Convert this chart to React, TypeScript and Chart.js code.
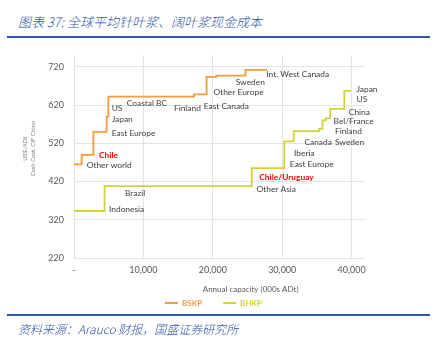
import React, { useEffect, useRef } from 'react';
import { Chart, registerables } from 'chart.js';

Chart.register(...registerables);

// ---- Data (capacity in 000s ADt cumulative, cost in US$/ADt) ----
const bskpCapacity = [0, 1100, 2800, 4700, 4950, 17300, 19100, 20500, 24700, 27800];
const bskpCost = [465, 490, 550, 590, 642, 648, 694, 697, 712, 712];

const bhkpCapacity = [0, 4400, 25600, 30300, 31650, 35300, 35800, 36300, 36900, 38950, 39900];
const bhkpCost = [343, 408, 455, 525, 552, 558, 580, 585, 610, 657, 657];

const xTickValues = [0, 10000, 20000, 30000, 40000];
const yTickValues = [220, 320, 420, 520, 620, 720];

// region annotations (anchored in data units)
const regionNames = [
  'Other world', 'Chile', 'East Europe', 'Japan', 'US', 'Coastal BC', 'Finland', 'East Canada',
  'Other Europe', 'Sweden', 'Int. West Canada',
  'Indonesia', 'Brazil', 'Other Asia', 'Chile/Uruguay', 'East Europe', 'Iberia', 'Canada',
  'Sweden', 'Finland', 'Bel/France', 'China', 'US', 'Japan',
];
const regionCapacity = [
  1830, 3600, 5430, 5430, 5430, 7600, 14400, 18700,
  20100, 23300, 27700,
  5040, 7350, 26300, 26700, 31100, 31700, 33200,
  37600, 37600, 37400, 39600, 40700, 40700,
];
const regionCost = [
  462, 488.5, 547.5, 583.5, 611, 623.5, 611, 616,
  652.5, 680, 701,
  348.5, 390, 398.5, 430, 466, 494, 524,
  523.5, 551, 577.5, 601, 634, 661,
];
const regionHighlighted = ['Chile', 'Chile/Uruguay'];

const BSKP_COLOR = '#F39B3F';
const BHKP_COLOR = '#D3D23C';
const FONT = 'Lato, "Open Sans", sans-serif';

const annotationPlugin = {
  id: 'regionTexts',
  afterDatasetsDraw(chart: any) {
    const { ctx, scales, chartArea } = chart;
    const xs = scales.x;
    const ys = scales.y;
    ctx.save();
    ctx.textBaseline = 'middle';
    ctx.textAlign = 'left';
    regionNames.forEach((name, i) => {
      const hi = regionHighlighted.includes(name);
      ctx.font = `${hi ? 'bold ' : ''}8.4px ${FONT}`;
      ctx.fillStyle = hi ? '#FF0000' : '#404040';
      ctx.fillText(name, xs.getPixelForValue(regionCapacity[i]), ys.getPixelForValue(regionCost[i]));
    });

    // x axis title
    ctx.font = `8px ${FONT}`;
    ctx.fillStyle = '#595959';
    ctx.textAlign = 'center';
    const w = chartArea.right - chartArea.left;
    ctx.fillText('Annual capacity (000s ADt)', chartArea.left + w * 0.606, chartArea.bottom + 31);

    // y axis title (two rotated lines)
    const cy = (chartArea.top + chartArea.bottom) / 2 - 8;
    ctx.font = `6px ${FONT}`;
    ctx.fillStyle = '#7F7F7F';
    ctx.save();
    ctx.translate(25, cy);
    ctx.rotate(-Math.PI / 2);
    ctx.fillText('US$/ADt', 0, 0);
    ctx.restore();
    ctx.save();
    ctx.translate(33, cy);
    ctx.rotate(-Math.PI / 2);
    ctx.fillText('Cash Cost, CIF China', 0, 0);
    ctx.restore();
    ctx.restore();
  },
};

export default function App() {
  const canvasRef = useRef<HTMLCanvasElement>(null);

  useEffect(() => {
    const chart = new Chart(canvasRef.current as HTMLCanvasElement, {
      type: 'line',
      data: {
        datasets: [
          {
            label: 'BSKP',
            data: bskpCapacity.map((x, i) => ({ x, y: bskpCost[i] })),
            borderColor: BSKP_COLOR,
            backgroundColor: BSKP_COLOR,
            borderWidth: 1.8,
            pointRadius: 0,
            stepped: 'before',
            fill: false,
          },
          {
            label: 'BHKP',
            data: bhkpCapacity.map((x, i) => ({ x, y: bhkpCost[i] })),
            borderColor: BHKP_COLOR,
            backgroundColor: BHKP_COLOR,
            borderWidth: 1.8,
            pointRadius: 0,
            stepped: 'before',
            fill: false,
          },
        ],
      },
      options: {
        animation: false,
        responsive: true,
        maintainAspectRatio: false,
        layout: { padding: { top: 4, left: 0, right: 16, bottom: 0 } },
        plugins: {
          tooltip: { enabled: false },
          legend: {
            position: 'bottom',
            labels: {
              boxWidth: 13,
              boxHeight: 2,
              padding: 21,
              font: { family: FONT, size: 8, weight: 'bold' },
              generateLabels: (c: any) =>
                c.data.datasets.map((ds: any, i: number) => ({
                  text: ds.label,
                  fillStyle: ds.borderColor,
                  strokeStyle: ds.borderColor,
                  lineWidth: 0,
                  fontColor: ds.borderColor,
                  hidden: false,
                  datasetIndex: i,
                })),
            },
          },
        },
        scales: {
          x: {
            type: 'linear',
            min: 0,
            max: 42000,
            afterBuildTicks: (s: any) => {
              s.ticks = xTickValues.map((v) => ({ value: v }));
            },
            afterFit: (s: any) => {
              s.height = 20;
            },
            ticks: {
              autoSkip: false,
              maxRotation: 0,
              padding: 7,
              color: '#595959',
              font: { family: FONT, size: 9 },
              callback: (v: any) => (Number(v) === 0 ? '-' : Number(v).toLocaleString('en-US')),
            },
            grid: { color: '#E4E4E4', drawTicks: false, lineWidth: 1 },
            border: { display: false },
          },
          y: {
            type: 'linear',
            position: 'left',
            min: 220,
            max: 750,
            afterBuildTicks: (s: any) => {
              s.ticks = yTickValues.map((v) => ({ value: v }));
            },
            afterFit: (s: any) => {
              s.width = 74;
            },
            ticks: {
              padding: 10,
              color: '#595959',
              font: { family: FONT, size: 9 },
            },
            grid: { color: '#E4E4E4', drawTicks: false, lineWidth: 1 },
            border: { display: false },
          },
          yRight: {
            type: 'linear',
            position: 'right',
            display: true,
            afterFit: (s: any) => {
              s.width = 61.5;
            },
            ticks: { display: false },
            grid: { display: false, drawTicks: false },
            border: { display: false },
          },
        },
      } as any,
      plugins: [annotationPlugin],
    });
    return () => chart.destroy();
  }, []);

  return (
    <div
      style={{
        position: 'absolute',
        left: 0,
        top: 0,
        width: 443,
        height: 350,
        background: '#ffffff',
        overflow: 'hidden',
      }}
    >
      <div
        style={{
          position: 'absolute',
          left: 18,
          top: 13,
          fontFamily: '"Noto Sans CJK SC", sans-serif',
          fontStyle: 'italic',
          fontWeight: 300,
          fontSize: 13,
          lineHeight: '18px',
          color: '#2F55A4',
          whiteSpace: 'nowrap',
        }}
      >
        图表 37: 全球平均针叶浆、阔叶浆现金成本
      </div>
      <div style={{ position: 'absolute', left: 7, top: 36, width: 423, height: 2, background: '#2E5BA8' }} />
      <div style={{ position: 'absolute', left: 0, top: 40, width: 443, height: 277 }}>
        <canvas ref={canvasRef} />
      </div>
      <div style={{ position: 'absolute', left: 7, top: 314, width: 423, height: 2, background: '#2E5BA8' }} />
      <div
        style={{
          position: 'absolute',
          left: 18,
          top: 321,
          fontFamily: '"Noto Sans CJK SC", sans-serif',
          fontStyle: 'italic',
          fontWeight: 300,
          fontSize: 12,
          lineHeight: '16px',
          color: '#2F55A4',
          whiteSpace: 'nowrap',
        }}
      >
        资料来源：Arauco 财报，国盛证券研究所
      </div>
    </div>
  );
}
